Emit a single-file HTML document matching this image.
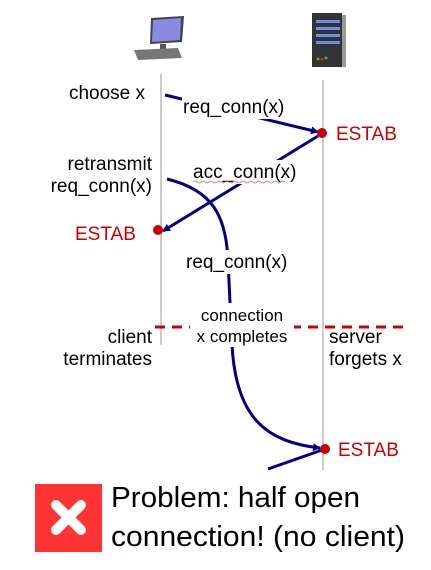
<!DOCTYPE html>
<html><head><style>
html,body{margin:0;padding:0;background:#fff;}
svg{display:block;}
text{font-family:"Liberation Sans",sans-serif;}
</style></head><body>
<svg width="431" height="570" viewBox="0 0 431 570" xmlns="http://www.w3.org/2000/svg">
<g>
<polygon points="151,18 184,16 182,42 150,44" fill="#444"/>
<polygon points="153,20 181,18 180,40 152,42" fill="#8a8ae0"/>
<rect x="160" y="44" width="6" height="6" fill="#555"/>
<polygon points="134,50 178,48 182,58 138,60" fill="#777"/>
</g>
<g>
<rect x="312" y="13" width="30" height="54" fill="#333"/>
<rect x="342" y="15" width="4" height="52" fill="#999"/>
<rect x="316" y="20" width="24" height="3" fill="#6a8ee8"/>
<rect x="316" y="27" width="24" height="3" fill="#6a8ee8"/>
<rect x="316" y="34" width="24" height="3" fill="#6a8ee8"/>
<rect x="316" y="41" width="24" height="3" fill="#6a8ee8"/>
<circle cx="318" cy="59" r="1.5" fill="#2c2"/>
<circle cx="322" cy="59" r="1.5" fill="#e22"/>
<circle cx="326" cy="58" r="1.5" fill="#2c2"/>
</g>
<line x1="161" y1="74" x2="161" y2="345" stroke="#999" stroke-width="1"/>
<line x1="323" y1="80" x2="323" y2="470" stroke="#999" stroke-width="1"/>
<line x1="155" y1="327" x2="410" y2="327" stroke="#c00" stroke-width="3" stroke-dasharray="10,7"/>
<defs><marker id="a" markerWidth="8" markerHeight="8" refX="7" refY="4" orient="auto" markerUnits="userSpaceOnUse"><path d="M0,0 L8,4 L0,8 Z" fill="#00008b"/></marker></defs>
<line x1="165" y1="95" x2="318" y2="132" stroke="#00008b" stroke-width="3" marker-end="url(#a)"/>
<line x1="318" y1="136" x2="163" y2="231" stroke="#00008b" stroke-width="3" marker-end="url(#a)"/>
<path d="M167,179 C212,190 226,215 228,260 L232,345 C236,420 268,442 320,448" fill="none" stroke="#00008b" stroke-width="3" marker-end="url(#a)"/>
<line x1="268" y1="469" x2="322" y2="450" stroke="#00008b" stroke-width="3"/>
<rect x="182" y="95" width="116" height="24" fill="#fff"/>
<rect x="192" y="160" width="118" height="24" fill="#fff"/>
<rect x="184" y="250" width="118" height="24" fill="#fff"/>
<rect x="190" y="303" width="104" height="44" fill="#fff"/>
<circle cx="322" cy="133" r="5" fill="#c00"/>
<circle cx="158" cy="230" r="5" fill="#c00"/>
<circle cx="325" cy="449" r="5" fill="#c00"/>
<g font-size="19" fill="#000">
<text x="145" y="99" text-anchor="end">choose x</text>
<text x="183" y="113">req_conn(x)</text>
<text x="193" y="178">acc_conn(x)</text>
<text x="152" y="170" text-anchor="end">retransmit</text>
<text x="152" y="192" text-anchor="end">req_conn(x)</text>
<text x="186" y="268">req_conn(x)</text>
<text x="152" y="343" text-anchor="end">client</text>
<text x="152" y="365" text-anchor="end">terminates</text>
<text x="329" y="343">server</text>
<text x="329" y="365">forgets x</text>
</g>
<path d="M193,182 q2,-2 4,0 t4,0 t4,0 t4,0 t4,0 t4,0 t4,0 t4,0 t4,0 t4,0 t4,0 t4,0 t4,0 t4,0 t4,0 t4,0 t4,0 t4,0 t4,0 t4,0 t4,0 t4,0 t4,0" fill="none" stroke="#e55" stroke-width="0.8"/>
<g font-size="17" fill="#000" text-anchor="middle">
<text x="242" y="321">connection</text>
<text x="242" y="342">x completes</text>
</g>
<g font-size="19" fill="#c00">
<text x="336" y="140">ESTAB</text>
<text x="75" y="240">ESTAB</text>
<text x="338" y="456">ESTAB</text>
</g>
<rect x="35" y="484" width="67" height="68" fill="#f33"/>
<g stroke="#fff" stroke-width="10" stroke-linecap="round">
<line x1="56" y1="505" x2="81" y2="530"/>
<line x1="81" y1="505" x2="56" y2="530"/>
</g>
<g font-size="29" fill="#000">
<text x="111" y="507" textLength="249" lengthAdjust="spacingAndGlyphs">Problem: half open</text>
<text x="111" y="546" textLength="294" lengthAdjust="spacingAndGlyphs">connection! (no client)</text>
</g>
</svg>
</body></html>
